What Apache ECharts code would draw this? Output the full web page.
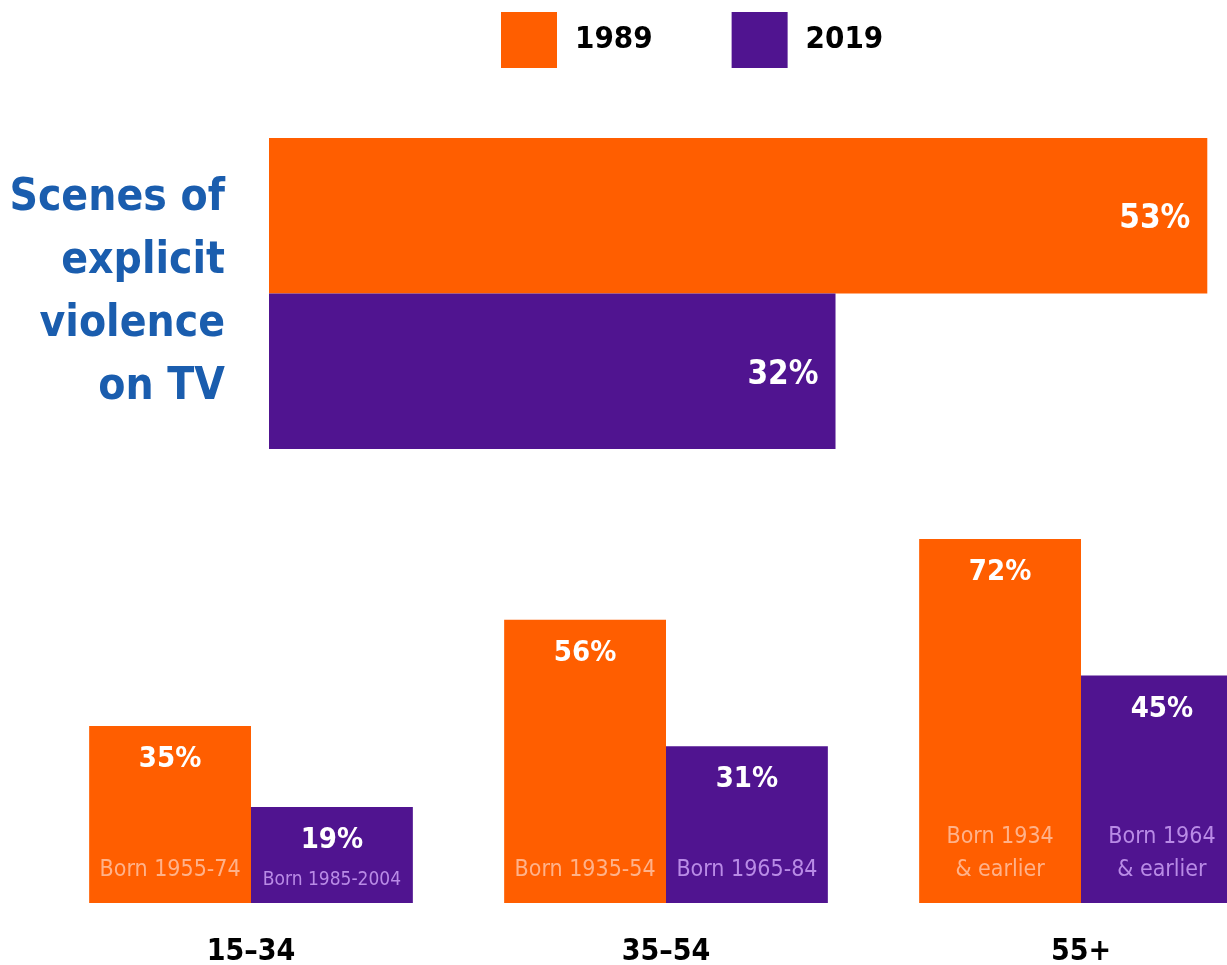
<!DOCTYPE html>
<html>
<head>
<meta charset="utf-8">
<script src="https://cdn.jsdelivr.net/npm/echarts@6/dist/echarts.min.js"></script>
<style>
  html, body { margin: 0; padding: 0; background: #fff; }
  #chart { width: 1227px; height: 965px; }
</style>
</head>
<body>
<div id="chart"></div>
<script>
// ---- data ----
const seriesNames = ['1989', '2019'];
const tvCategory = ['Scenes of\nexplicit\nviolence\non TV'];
const tv1989 = [53];
const tv2019 = [32];
const ageGroups = ['15–34', '35–54', '55+'];
const age1989 = [35, 56, 72];
const age2019 = [19, 31, 45];
const born1989 = ['Born 1955-74', 'Born 1935-54', 'Born 1934\n& earlier'];
const born2019 = ['Born 1985-2004', 'Born 1965-84', 'Born 1964\n& earlier'];

// ---- styles ----
const ORANGE = '#FF5E00';
const PURPLE = '#501490';
const BLUE = '#1A5DAE';
const LIGHT_OR = '#FFB28A';
const LIGHT_PU = '#B98BE6';
const COND = "'DejaVu Sans Condensed', 'Roboto', sans-serif";

const chart = echarts.init(document.getElementById('chart'), null, { renderer: 'canvas' });

function valueLabel(pos, dist, size, off) {
  return {
    show: true, position: pos, distance: dist, offset: off || [0, 0],
    formatter: '{c}%', color: '#fff', fontFamily: COND,
    fontWeight: 'bold', fontSize: size
  };
}

function isLongSingle(s) { return s.length > 13 && s.indexOf('\n') < 0; }

function bornSeries(name, data, labels, color) {
  return {
    name: name, type: 'bar', xAxisIndex: 2, yAxisIndex: 1,
    barGap: 0, barCategoryGap: '22%', silent: true,
    itemStyle: { color: 'rgba(0,0,0,0)' },
    data: data.map((v, i) => ({
      value: v,
      label: {
        show: true, position: 'insideBottom',
        distance: isLongSingle(labels[i]) ? 6 : 16,
        formatter: labels[i], color: color, fontFamily: COND,
        fontSize: isLongSingle(labels[i]) ? 19 : 23,
        lineHeight: 33
      }
    }))
  };
}

const option = {
  animation: false,
  backgroundColor: '#fff',
  legend: {
    data: seriesNames,
    left: 501, top: 12, padding: 0,
    itemWidth: 56, itemHeight: 56, itemGap: 79,
    icon: 'rect',
    selectedMode: false,
    textStyle: { fontFamily: COND, fontWeight: 'bold', fontSize: 31, color: '#000', padding: [2, 0, 0, 13] }
  },
  grid: [
    { left: 269, top: 138, width: 956, height: 311, containLabel: false, outerBoundsMode: 'none' },
    { left: 43.5, top: 498.5, width: 1245, height: 404.5, containLabel: false, outerBoundsMode: 'none' }
  ],
  xAxis: [
    { gridIndex: 0, type: 'value', min: 0, max: 54, show: false },
    { gridIndex: 1, type: 'category', data: ageGroups,
      axisLine: { show: false }, axisTick: { show: false },
      axisLabel: { margin: 34, fontFamily: COND, fontWeight: 'bold', fontSize: 30, color: '#000' } },
    { gridIndex: 1, type: 'category', data: ageGroups, show: false }
  ],
  yAxis: [
    { gridIndex: 0, type: 'category', data: tvCategory, inverse: true,
      axisLine: { show: false }, axisTick: { show: false },
      axisLabel: { margin: 44, align: 'right', fontFamily: COND, fontWeight: 'bold', fontSize: 44, lineHeight: 63, color: BLUE, padding: [6, 0, 0, 0] } },
    { gridIndex: 1, type: 'value', min: 0, max: 80, show: false }
  ],
  series: [
    { name: '1989', type: 'bar', xAxisIndex: 0, yAxisIndex: 0, barGap: 0, barCategoryGap: 0,
      itemStyle: { color: ORANGE }, label: valueLabel('insideRight', 17, 33, [0, 4]), data: tv1989 },
    { name: '2019', type: 'bar', xAxisIndex: 0, yAxisIndex: 0, barGap: 0, barCategoryGap: 0,
      itemStyle: { color: PURPLE }, label: valueLabel('insideRight', 17, 33, [0, 4]), data: tv2019 },
    { name: '1989', type: 'bar', xAxisIndex: 1, yAxisIndex: 1, barGap: 0, barCategoryGap: '22%',
      itemStyle: { color: ORANGE }, label: valueLabel('insideTop', 19, 29), data: age1989 },
    { name: '2019', type: 'bar', xAxisIndex: 1, yAxisIndex: 1, barGap: 0, barCategoryGap: '22%',
      itemStyle: { color: PURPLE }, label: valueLabel('insideTop', 19, 29), data: age2019 },
    bornSeries('born1989', age1989, born1989, LIGHT_OR),
    bornSeries('born2019', age2019, born2019, LIGHT_PU)
  ]
};
chart.setOption(option);
</script>
</body>
</html>
